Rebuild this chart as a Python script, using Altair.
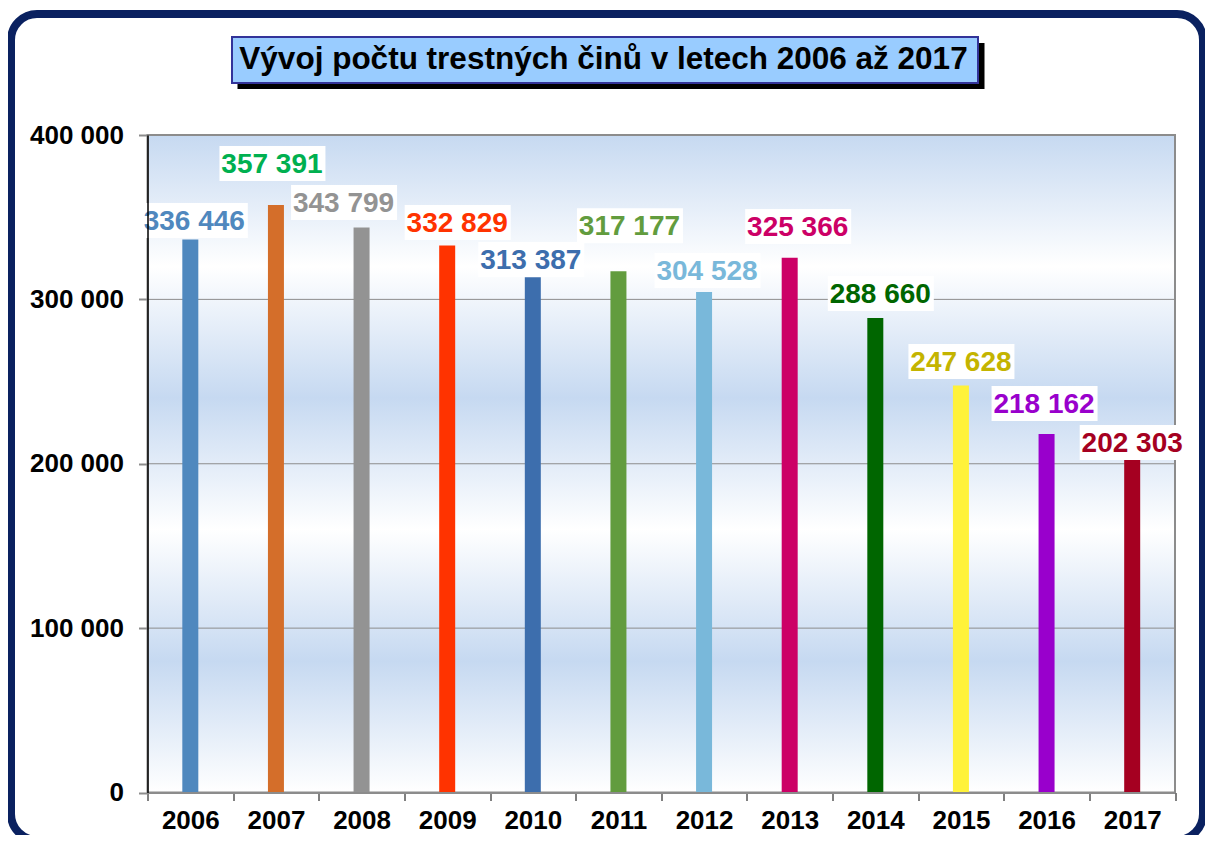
import altair as alt
import pandas as pd

# ---- data ----
years = ["2006", "2007", "2008", "2009", "2010", "2011",
         "2012", "2013", "2014", "2015", "2016", "2017"]
counts = [336446, 357391, 343799, 332829, 313387, 317177,
          304528, 325366, 288660, 247628, 218162, 202303]
bar_colors = ["#4F88BE", "#D46E2A", "#939393", "#FF3300", "#3D6EAD", "#629C3E",
              "#79B8DA", "#CC0066", "#006600", "#FFF23A", "#9900CC", "#A50021"]
label_colors = ["#4F88BE", "#00B050", "#939393", "#FF3300", "#3D6EAD", "#629C3E",
                "#79B8DA", "#CC0066", "#006600", "#C4B400", "#9900CC", "#A50021"]
y_ticks = [0, 100000, 200000, 300000, 400000]
grid_values = [100000, 200000, 300000]
title_text = "Vývoj počtu trestných činů v letech 2006 až 2017"

# pixel nudges of the data labels (dx, dy of baseline from bar top), as placed in the source
label_nudges = [(4, -9.5), (-4, -32), (-18, -15.4), (10, -13.4), (-2, -8.4), (11, -36),
                (3, -12), (8, -21.7), (5, -15), (0, -14.4), (-2.5, -21), (0, -8)]

FONT = "Liberation Sans"
W, H = 1027.5, 657.5

df = pd.DataFrame({
    "year": years,
    "value": counts,
    "label": [f"{v:,}".replace(",", " ") for v in counts],
})
grid_df = pd.DataFrame({"value": grid_values})
one = alt.Data(values=[{"t": title_text}])

x_scale = alt.Scale(domain=years, paddingInner=0, paddingOuter=0)
y_scale = alt.Scale(domain=[0, 400000], nice=False)

x_enc = alt.X("year:N", sort=years, scale=x_scale, title=None,
              axis=alt.Axis(labelAngle=0, labelFont=FONT, labelFontSize=26,
                            labelFontWeight="bold", labelColor="black",
                            labelPadding=7, tickBand="extent", tickColor="black",
                            tickSize=8, tickWidth=1, domainColor="#8c8c8c",
                            domainWidth=2, grid=False, zindex=1))
y_enc = alt.Y("value:Q", scale=y_scale, title=None,
              axis=alt.Axis(values=y_ticks, labelFont=FONT, labelFontSize=26,
                            labelFontWeight="bold", labelColor="black",
                            labelExpr="replace(format(datum.value, ','), ',', ' ')",
                            labelPadding=15, tickColor="#8c8c8c", tickSize=9,
                            tickWidth=2, domainColor="black", domainWidth=1.5,
                            grid=False, zindex=1))

# outer navy frame
frame = alt.Chart(one).mark_rect(filled=False, stroke="#0A2160", strokeWidth=8,
                                 cornerRadius=26).encode(
    x=alt.value(-136.5), x2=alt.value(1055.5), y=alt.value(-121), y2=alt.value(705))

# title box with shadow
shadow = alt.Chart(one).mark_rect(color="black").encode(
    x=alt.value(90), x2=alt.value(837), y=alt.value(-92), y2=alt.value(-46))
tbox = alt.Chart(one).mark_rect(fill="#99CCFF", stroke="#333399", strokeWidth=2).encode(
    x=alt.value(84.5), x2=alt.value(830.5), y=alt.value(-98), y2=alt.value(-52))
ttext = alt.Chart(one).mark_text(font=FONT, fontSize=31.5, fontWeight="bold",
                                 color="black", align="center",
                                 baseline="alphabetic").encode(
    x=alt.value(456), y=alt.value(-66), text="t:N")

# plot background gradient
blue = "#C6D9F1"
grad = alt.LinearGradient(
    gradient="linear", x1=0, y1=0, x2=0, y2=1,
    stops=[alt.GradientStop(offset=0.0, color=blue),
           alt.GradientStop(offset=0.2, color="#FFFFFF"),
           alt.GradientStop(offset=0.4, color=blue),
           alt.GradientStop(offset=0.6, color="#FFFFFF"),
           alt.GradientStop(offset=0.8, color=blue),
           alt.GradientStop(offset=1.0, color="#FFFFFF")])
bg = alt.Chart(one).mark_rect(color=grad).encode(
    x=alt.value(0), x2=alt.value("width"), y=alt.value(0), y2=alt.value("height"))

grid = alt.Chart(grid_df).mark_rule(color="#8c8c8c", strokeWidth=1).encode(
    y=alt.Y("value:Q", scale=y_scale))

border = alt.Chart(one).mark_rect(filled=False, stroke="#8c8c8c", strokeWidth=2).encode(
    x=alt.value(0), x2=alt.value("width"), y=alt.value(0), y2=alt.value("height"))

bars = alt.Chart(df).mark_bar(size=16).encode(
    x=x_enc, y=y_enc,
    color=alt.Color("year:N", scale=alt.Scale(domain=years, range=bar_colors), legend=None))

box_shape = "M-1,-0.33L1,-0.33L1,0.33L-1,0.33Z"
label_layers = []
for yr, col, (dx, dy) in zip(years, label_colors, label_nudges):
    sub = alt.Chart(df).transform_filter(alt.datum.year == yr)
    box = sub.mark_point(shape=box_shape, size=106 * 106, filled=True, fill="white",
                         opacity=1, strokeWidth=0,
                         xOffset=dx + 0.5, yOffset=dy - 9.5).encode(
        x=alt.X("year:N", sort=years, scale=x_scale),
        y=alt.Y("value:Q", scale=y_scale))
    txt = sub.mark_text(font=FONT, fontSize=28, fontWeight="bold", color=col,
                        align="center", baseline="alphabetic", dx=dx, dy=dy).encode(
        x=alt.X("year:N", sort=years, scale=x_scale),
        y=alt.Y("value:Q", scale=y_scale), text="label:N")
    label_layers += [box, txt]

chart = alt.layer(bars, frame, shadow, tbox, ttext, bg, grid, border, bars, *label_layers).properties(
    width=W, height=H,
    autosize=alt.AutoSizeParams(type="none"),
    padding={"left": 139.5, "top": 127, "right": 30, "bottom": 42},
    background="white",
).configure_view(strokeWidth=0)

chart.save("out.html", embed_options={"renderer": "svg", "actions": False})
